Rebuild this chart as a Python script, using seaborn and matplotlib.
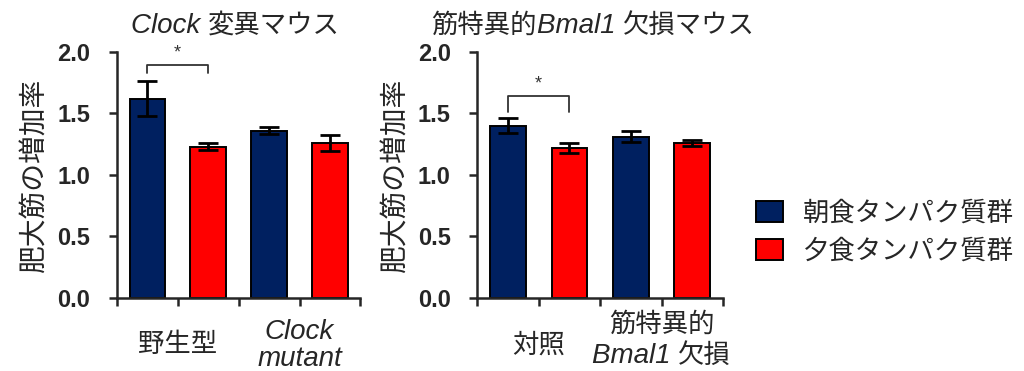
import numpy as np
import pandas as pd
import matplotlib
matplotlib.use('Agg')
import matplotlib.pyplot as plt
import seaborn as sns
from matplotlib.patches import Patch

# データ
diets = ['朝食タンパク質群', '夕食タンパク質群']
colors = ['#002060', '#FF0000']

clock_groups = ['野生型', 'Clock\nmutant']
clock_morning = [1.62, 1.36]
clock_morning_err = [0.14, 0.03]
clock_evening = [1.23, 1.26]
clock_evening_err = [0.03, 0.065]

bmal_groups = ['対照', '筋特異的 Bmal1 欠損']
bmal_morning = [1.40, 1.31]
bmal_morning_err = [0.06, 0.045]
bmal_evening = [1.22, 1.26]
bmal_evening_err = [0.04, 0.025]

# 斜体を含むテキスト (文字列, スタイル)
titles = [[('Clock ', 'italic'), ('変異マウス', 'normal')],
          [('筋特異的', 'normal'), ('Bmal1 ', 'italic'), ('欠損マウス', 'normal')]]
bmal_label = [[('筋特異的', 'normal')], [('Bmal1 ', 'italic'), ('欠損', 'normal')]]
ylabel = '肥大筋の増加率'
yticks = [0.0, 0.5, 1.0, 1.5, 2.0]
# 有意差の括弧 (高さ, 脚の下端)
sig_top = [1.89, 1.64]
sig_leg = [1.83, 1.51]

sns.set_style('ticks')
plt.rcParams['font.family'] = ['Liberation Sans', 'Noto Sans CJK JP']

W, H = 1024, 371
fig = plt.figure(figsize=(W / 100, H / 100), dpi=100)
renderer = fig.canvas.get_renderer()


def mixed_text(pieces, xc, ybase, size):
    # xc, ybase: ピクセル (左上原点)
    widths = []
    for s, st in pieces:
        fs = size + 1 if st == 'italic' else size
        t = fig.text(0, 0, s, fontsize=fs, fontstyle=st)
        widths.append(t.get_window_extent(renderer).width)
        t.remove()
    x = xc - sum(widths) / 2
    for (s, st), w in zip(pieces, widths):
        fs = size + 1 if st == 'italic' else size
        fig.text(x / W, 1 - ybase / H, s, fontsize=fs, fontstyle=st,
                 ha='left', va='baseline')
        x += w


def make_df(groups, m, e):
    return pd.DataFrame({
        'group': groups * 2,
        'diet': [diets[0]] * 2 + [diets[1]] * 2,
        'value': m[0] + m[1],
        'err': e[0] + e[1],
    })


panels = [
    make_df(clock_groups, [clock_morning, clock_evening], [clock_morning_err, clock_evening_err]),
    make_df(bmal_groups, [bmal_morning, bmal_evening], [bmal_morning_err, bmal_evening_err]),
]
group_lists = [clock_groups, ['対照', '']]
ax_pos = [[0.114, 0.197, 0.238, 0.663], [0.466, 0.197, 0.240, 0.663]]
title_x = [235, 593]

for k, df in enumerate(panels):
    ax = fig.add_axes(ax_pos[k])
    sns.barplot(data=df, x='group', y='value', hue='diet', palette=colors,
                saturation=1, width=1.0, gap=0.42, errorbar=None, edgecolor='black',
                linewidth=1.4, legend=False, ax=ax)
    bars = list(ax.containers)
    # エラーバー
    for i, cont in enumerate(bars):
        sub = df[df['diet'] == diets[i]]
        xs = [b.get_x() + b.get_width() / 2 for b in cont]
        ax.errorbar(xs, sub['value'], yerr=sub['err'], fmt='none', ecolor='black',
                    elinewidth=2, capsize=7, capthick=2, zorder=5)
    ax.set_ylim(0, 2.0)
    ax.set_xlim(-0.5, 1.5)
    ax.set_yticks(yticks)
    ax.set_yticklabels([f'{t:.1f}' for t in yticks], fontsize=17, fontweight='bold')
    ax.set_xticks([0, 1])
    ax.set_xticks([-0.5, 0.5, 1.5], minor=True)
    ax.set_xticklabels(group_lists[k], fontsize=19, va='center', linespacing=1.05)
    if k == 0:
        ax.get_xticklabels()[1].set_fontstyle('italic')
        ax.get_xticklabels()[1].set_fontsize(20)
    ax.tick_params(axis='x', which='both', length=6, width=1.8, pad=28, direction='out')
    ax.tick_params(axis='y', length=6, width=1.8, pad=13, direction='out')
    for s in ['top', 'right']:
        ax.spines[s].set_visible(False)
    for s in ['left', 'bottom']:
        ax.spines[s].set_linewidth(1.8)
    ax.set_xlabel('')
    ax.set_ylabel(ylabel, fontsize=20, labelpad=6)
    mixed_text(titles[k], title_x[k], 33, 19)
    # 有意差
    b1 = bars[0][0]
    b2 = bars[1][0]
    x1 = b1.get_x() + b1.get_width() / 2
    x2 = b2.get_x() + b2.get_width() / 2
    ax.plot([x1, x1, x2, x2], [sig_leg[k], sig_top[k], sig_top[k], sig_leg[k]],
            color='#333333', lw=1.3, clip_on=False)
    ax.text((x1 + x2) / 2, sig_top[k] + 0.03, '*', ha='center', va='bottom',
            fontsize=13, color='#333333', clip_on=False)
    if k == 1:
        xc = ax.transData.transform((1, 0))[0]
        mixed_text(bmal_label[0], xc, 332, 19)
        mixed_text(bmal_label[1], xc, 363, 19)

handles = [Patch(facecolor=c, edgecolor='black', linewidth=1.4) for c in colors]
fig.legend(handles, diets, loc='center left', bbox_to_anchor=(0.738, 0.373),
           frameon=False, fontsize=19, handlelength=1.05, handleheight=0.85,
           handletextpad=0.75, labelspacing=0.5, borderpad=0, borderaxespad=0)

fig.savefig('out.png', dpi=100)
